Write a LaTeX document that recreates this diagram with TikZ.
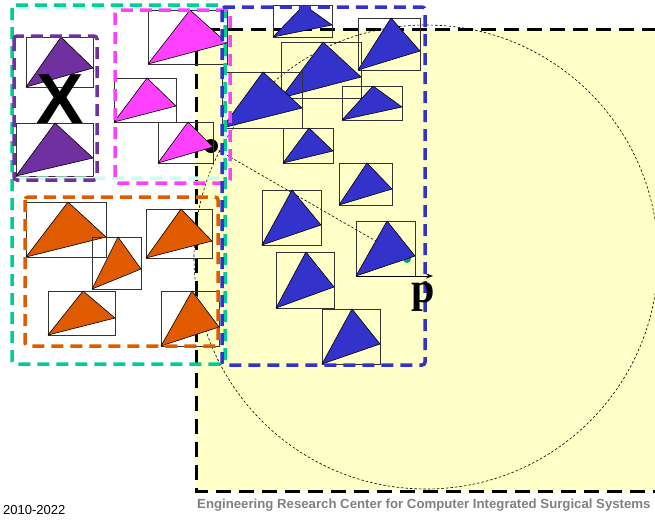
\documentclass[tikz,border=0pt]{standalone}
\usepackage{fontspec}
\setmainfont{Liberation Sans}
\newfontfamily\serifbold{Liberation Serif}
\usetikzlibrary{arrows.meta}
\definecolor{yel}{RGB}{255,255,200}
\definecolor{tealc}{RGB}{0,204,150}
\definecolor{cyanl}{RGB}{200,255,240}
\definecolor{purp}{RGB}{112,48,160}
\definecolor{magc}{RGB}{255,64,255}
\definecolor{bluec}{RGB}{51,51,204}
\definecolor{orac}{RGB}{224,90,0}
\definecolor{grayt}{RGB}{128,128,128}
\tikzset{
  dbox/.style={line width=3.5pt, dash pattern=on 12pt off 7pt, rounded corners=3pt},
  tbox/.style={draw=black!80, line width=0.8pt},
  tri/.style={draw=black, line width=0.6pt, line join=round},
  thindash/.style={draw=black, line width=0.6pt, dash pattern=on 2.5pt off 2pt}
}
\newcommand{\mytri}[7]{%
  \draw[tbox] (#2,#3) rectangle (#4,#5);
  \filldraw[tri, fill=#1] (#2,#5) -- (#6,#3) -- (#4,#7) -- cycle;}
\begin{document}
\begin{tikzpicture}[x=1pt,y=-1pt]
\useasboundingbox (0,0) rectangle (655,520);
\begin{scope}
\clip (0,0) rectangle (655,520);
% yellow region
\fill[yel] (196,29) rectangle (680,491);
\draw[line width=3pt, dash pattern=on 15pt off 8pt] (680,29) -- (196,29) -- (196,491) -- (680,491);
% circle
\draw[thindash] (426,257) circle (232);
% dots and dashed link
\coordinate (pt) at (407,259);
\fill[tealc!80!black] (pt) circle (4);
\node[circle, fill=black, inner sep=0pt, minimum size=14pt] (dot) at (211,146) {};
\draw[thindash] (dot.center) -- (pt);
% purple
\mytri{purp}{26}{37}{93}{87}{61}{68}
\mytri{purp}{16}{123}{93}{176}{55}{158}
% magenta
\mytri{magc}{148}{10}{227}{64}{190}{43}
\mytri{magc}{114}{78}{176}{122}{147}{106}
\mytri{magc}{158}{122}{213}{163}{188}{147}
% orange
\mytri{orac}{26}{202}{106}{257}{68}{237}
\mytri{orac}{92}{237}{141}{289}{118}{269}
\mytri{orac}{146}{209}{212}{258}{181}{241}
\mytri{orac}{48}{291}{115}{335}{83}{318}
\mytri{orac}{161}{291}{219}{346}{192}{327}
% blue
\mytri{bluec}{273}{5}{332}{37}{304}{25}
\mytri{bluec}{358}{18}{420}{70}{391}{51}
\mytri{bluec}{281}{42}{361}{98}{323}{77}
\mytri{bluec}{222}{72}{302}{128}{263}{108}
\mytri{bluec}{342}{86}{402}{120}{373}{107}
\mytri{bluec}{283}{128}{333}{163}{309}{151}
\mytri{bluec}{339}{163}{392}{205}{367}{189}
\mytri{bluec}{262}{190}{321}{245}{292}{225}
\mytri{bluec}{356}{221}{415}{276}{387}{256}
\mytri{bluec}{276}{252}{334}{308}{306}{287}
\mytri{bluec}{322}{309}{380}{364}{352}{344}
% axis arrow
\coordinate (ax0) at (356,276);
\coordinate (ax1) at (433,276);
\draw[line width=0.8pt, -{Stealth[length=7pt,width=5pt]}] (ax0) -- (ax1);
% dashed group boxes
\draw[dbox, cyanl] (12,8) rectangle (225,178);
\draw[dbox, tealc] (12,5) rectangle (225,364);
\draw[dbox, purp] (14,36) rectangle (97,180);
\draw[dbox, magc] (115,10) rectangle (230,183);
\draw[dbox, orac] (25,197) rectangle (218,346);
\draw[dbox, bluec] (222,7) rectangle (425,365);
% labels
\node[font=\fontsize{71}{71}\selectfont\bfseries, inner sep=0pt, anchor=base] (xl) at (60,123) {X};
\node[font=\fontsize{42}{42}\selectfont\serifbold\bfseries, inner sep=0pt, anchor=base] (pl) at (423,302) {p};
\node[font=\fontsize{13}{13}\selectfont, inner sep=0pt, anchor=base west] (yr) at (3,514) {2010-2022};
\node[font=\fontsize{13.2}{13.2}\selectfont\bfseries, text=grayt, inner sep=0pt, anchor=base west] (ft) at (197,508) {Engineering Research Center for Computer Integrated Surgical Systems};
\end{scope}
\end{tikzpicture}
\end{document}
